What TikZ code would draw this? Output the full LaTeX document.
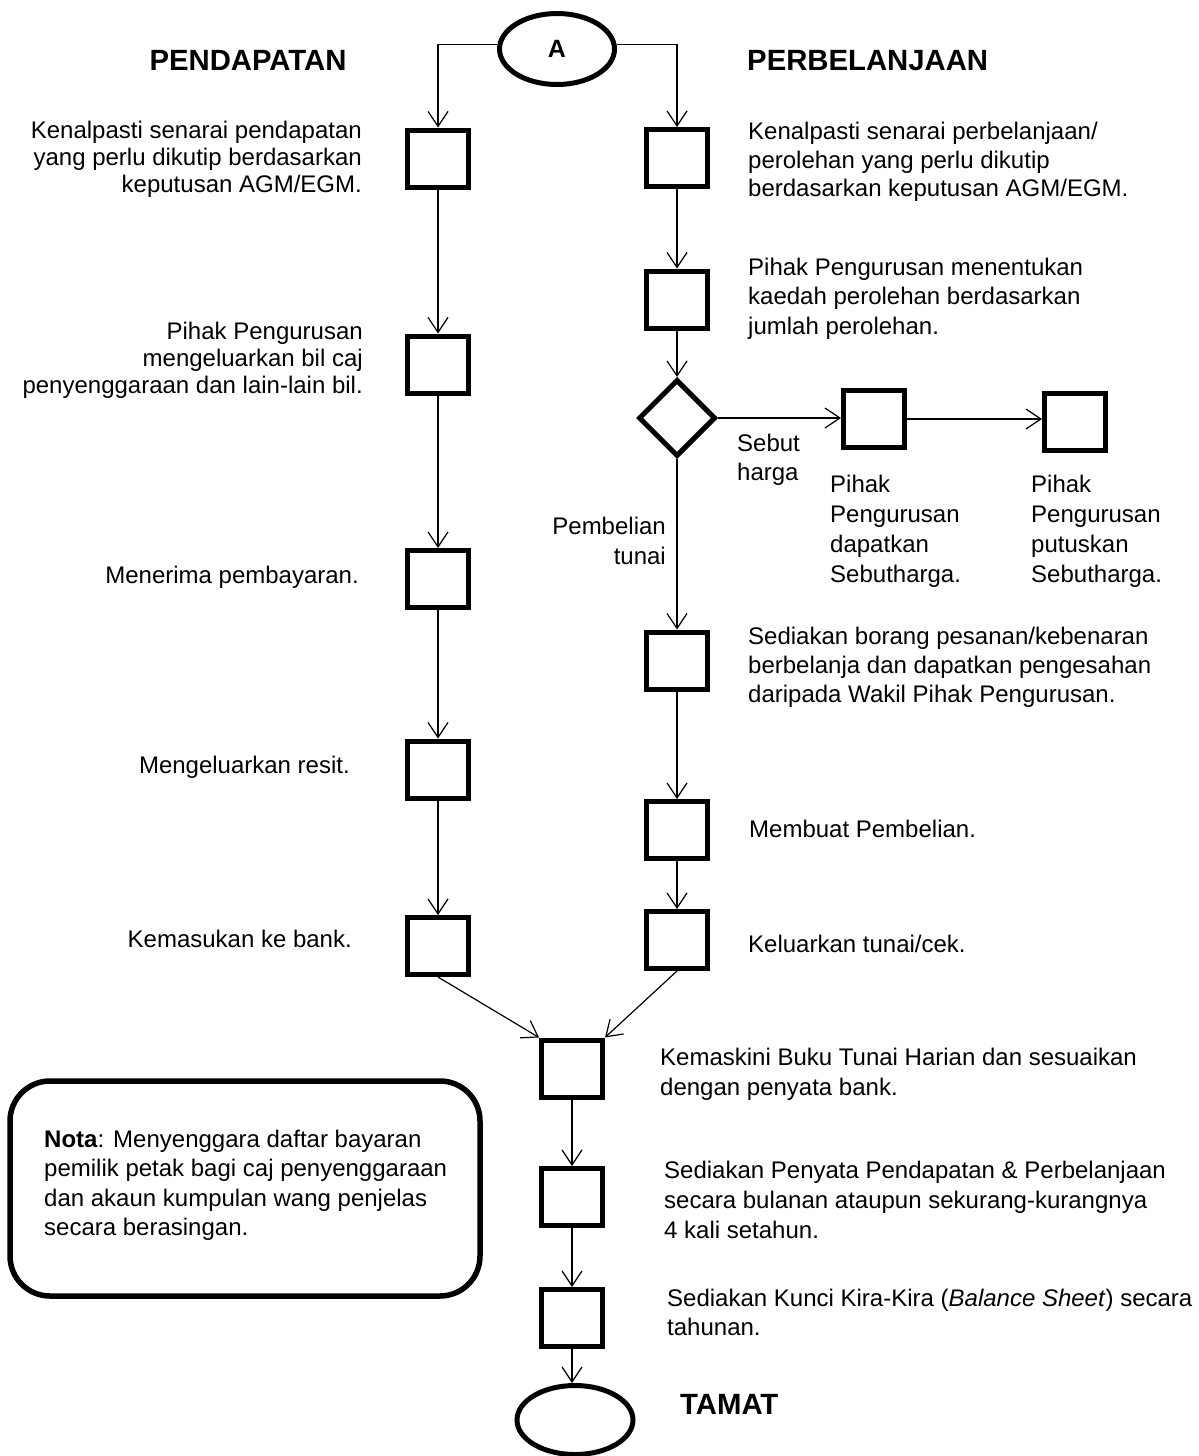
\documentclass[tikz,border=0pt]{standalone}
\usepackage{fontspec}
\setmainfont{Liberation Sans}
\usetikzlibrary{arrows.meta,shapes.geometric}
\begin{document}
\begin{tikzpicture}[x=1pt,y=-1pt,
  box/.style={draw, line width=5pt, minimum width=61pt, minimum height=57pt, inner sep=0pt},
  arr/.style={line width=1.2pt, -{Straight Barb[length=15pt,width=20pt,line width=1.2pt]}},
  txt/.style={inner sep=0pt, font=\fontsize{24}{29.5}\selectfont},
  ttl/.style={inner sep=0pt, font=\fontsize{29.3}{32}\selectfont\bfseries},
  oval/.style={ellipse, draw, line width=5pt, inner sep=0pt},
]
\useasboundingbox (0,0) rectangle (1199,1456);

% ---- shapes ----
\node[oval, minimum width=115pt, minimum height=71pt, font=\fontsize{25}{30}\selectfont\bfseries] (A) at (557,49) {A};

\node[box] (L1) at (438,158.5) {};
\node[box] (L2) at (438,364.5) {};
\node[box] (L3) at (438,579) {};
\node[box] (L4) at (438,769.5) {};
\node[box] (L5) at (438,946) {};

\node[box] (R1) at (677,158) {};
\node[box] (R2) at (677,299.5) {};
\node[diamond, draw, line width=5pt, minimum width=77pt, minimum height=77pt, inner sep=0pt] (D) at (677,418) {};
\node[box] (S1) at (874,419) {};
\node[box] (S2) at (1075,422) {};
\node[box] (R3) at (677,660.5) {};
\node[box] (R4) at (677,830) {};
\node[box] (R5) at (677,940) {};

\node[box] (C1) at (572,1068.5) {};
\node[box] (C2) at (572,1197) {};
\node[box] (C3) at (572,1318) {};
\node[oval, minimum width=116pt, minimum height=69pt] (E) at (575,1420) {};

\node[draw, line width=5.5pt, rounded corners=40pt, minimum width=470pt, minimum height=215pt, inner sep=0pt] (nota) at (245,1188.5) {};

% ---- connectors ----
\draw[arr] (A.176) -| (L1.north);
\draw[arr] (A.4) -| (R1.north);
\draw[arr] (L1) -- (L2);
\draw[arr] (L2) -- (L3);
\draw[arr] (L3) -- (L4);
\draw[arr] (L4) -- (L5);
\draw[arr] (R1) -- (R2);
\draw[arr] (R2) -- (D);
\draw[arr] (D.east) -- (D.east -| S1.west);
\draw[arr] (S1.east) -- (S1.east -| S2.west);
\draw[arr] (D) -- (R3);
\draw[arr] (R3) -- (R4);
\draw[arr] (R4) -- (R5);
\draw[arr] (L5.south) -- (C1.north west);
\draw[arr] (R5.south) -- (C1.north east);
\draw[arr] (C1) -- (C2);
\draw[arr] (C2) -- (C3);
\draw[arr] (C3.south) -- (C3.south |- E.north);

% ---- titles ----
\node[ttl, anchor=base] (tpend) at (248,70) {PENDAPATAN};
\node[ttl, anchor=base west] (tbel) at (747,70) {PERBELANJAAN};
\node[ttl, anchor=base west] (ttamat) at (680,1414) {TAMAT};

% ---- left texts ----
\node[txt, anchor=north east, align=right, font=\fontsize{24}{27}\selectfont] (tL1) at (362,121) {Kenalpasti senarai pendapatan\\yang perlu dikutip berdasarkan\\keputusan AGM/EGM.};
\node[txt, anchor=north east, align=right, font=\fontsize{24}{27}\selectfont] (tL2) at (363,321.5) {Pihak Pengurusan\\mengeluarkan bil caj\\penyenggaraan dan lain-lain bil.};
\node[txt, anchor=north east] (tL3) at (359,565.5) {Menerima pembayaran.};
\node[txt, anchor=north east] (tL4) at (350,755.5) {Mengeluarkan resit.};
\node[txt, anchor=north east] (tL5) at (352,929.5) {Kemasukan ke bank.};

% ---- right texts ----
\node[txt, anchor=north west, align=left, font=\fontsize{24}{28.5}\selectfont] (tR1) at (748,122) {Kenalpasti senarai perbelanjaan/\\perolehan yang perlu dikutip\\berdasarkan keputusan AGM/EGM.};
\node[txt, anchor=north west, align=left] (tR2) at (748,257.5) {Pihak Pengurusan menentukan\\kaedah perolehan berdasarkan\\jumlah perolehan.};
\node[txt, anchor=north west, align=left, font=\fontsize{24}{29.5}\selectfont] (tSeb) at (737,433.5) {Sebut\\harga};
\node[txt, anchor=north east, align=right, font=\fontsize{24}{30}\selectfont] (tPem) at (666,516.5) {Pembelian\\tunai};
\node[txt, anchor=north west, align=left, font=\fontsize{24}{30}\selectfont] (tS1) at (830,474.5) {Pihak\\Pengurusan\\dapatkan\\Sebutharga.};
\node[txt, anchor=north west, align=left, font=\fontsize{24}{30}\selectfont] (tS2) at (1031,474.5) {Pihak\\Pengurusan\\putuskan\\Sebutharga.};
\node[txt, anchor=north west, align=left, font=\fontsize{24}{29}\selectfont] (tR3) at (748,627) {Sediakan borang pesanan/kebenaran\\berbelanja dan dapatkan pengesahan\\daripada Wakil Pihak Pengurusan.};
\node[txt, anchor=north west] (tR4) at (749,819.5) {Membuat Pembelian.};
\node[txt, anchor=north west] (tR5) at (748,934.5) {Keluarkan tunai/cek.};

% ---- centre texts ----
\node[txt, anchor=north west, align=left, font=\fontsize{24}{30}\selectfont] (tC1) at (660,1048) {Kemaskini Buku Tunai Harian dan sesuaikan\\dengan penyata bank.};
\node[txt, anchor=north west, align=left, font=\fontsize{24}{30}\selectfont] (tC2) at (664,1160.5) {Sediakan Penyata Pendapatan \& Perbelanjaan\\secara bulanan ataupun sekurang-kurangnya\\4 kali setahun.};
\node[txt, anchor=north west, align=left, font=\fontsize{24}{29}\selectfont] (tC3) at (667,1289) {Sediakan Kunci Kira-Kira (\textit{Balance Sheet}) secara\\tahunan.};

% ---- note ----
\node[txt, anchor=north west, align=left] (tNota) at (44,1129.5) {\textbf{Nota}: Menyenggara daftar bayaran\\pemilik petak bagi caj penyenggaraan\\dan akaun kumpulan wang penjelas\\secara berasingan.};
\end{tikzpicture}
\end{document}
